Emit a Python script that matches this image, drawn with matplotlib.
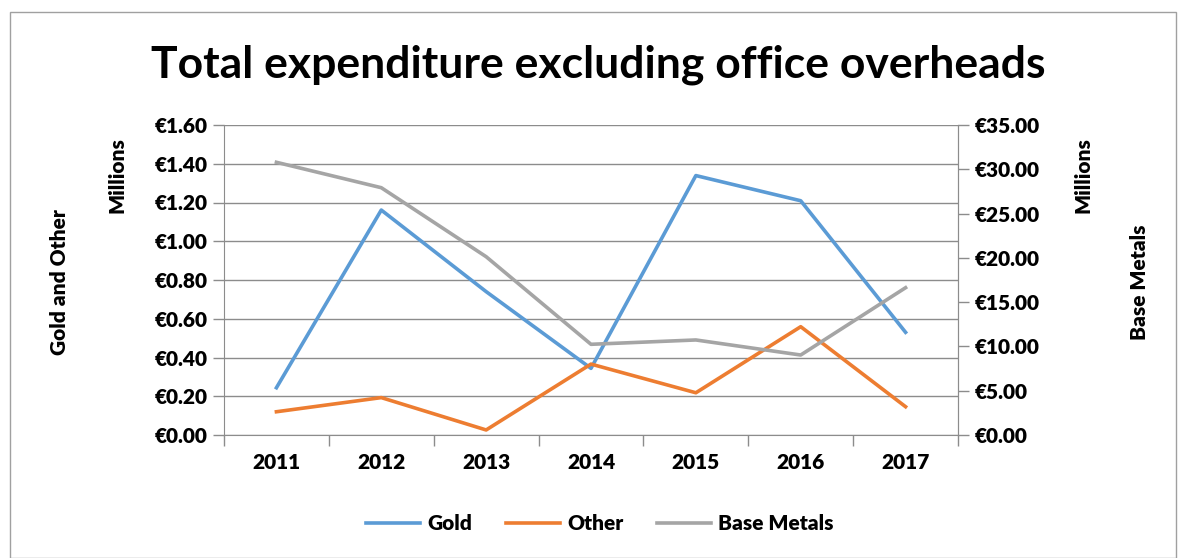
import matplotlib
matplotlib.use("Agg")
import matplotlib.pyplot as plt
from matplotlib.patches import Rectangle

# datos
years = ["2011", "2012", "2013", "2014", "2015", "2016", "2017"]
gold = [0.244, 1.161, 0.740, 0.344, 1.339, 1.209, 0.530]
other = [0.120, 0.193, 0.026, 0.366, 0.218, 0.559, 0.146]
base_metals = [30.79, 27.92, 20.13, 10.24, 10.73, 9.03, 16.63]

left_ticks = [0.0, 0.2, 0.4, 0.6, 0.8, 1.0, 1.2, 1.4, 1.6]
right_ticks = [0, 5, 10, 15, 20, 25, 30, 35]

plt.rcParams['font.family'] = ['Lato', 'DejaVu Sans']
peso = "heavy"
tam = 15

gris = "#8c8c8c"

fig = plt.figure(figsize=(11.84, 5.58), dpi=100)
fig.patches.append(Rectangle((10/1184, 0), 1166/1184, 1 - 12/558, transform=fig.transFigure,
                             fill=False, edgecolor="#a0a0a0", linewidth=1))

ax = fig.add_axes([224/1184, 1 - 435/558, 734/1184, 310/558])
ax2 = ax.twinx()

x = list(range(len(years)))
l1, = ax.plot(x, gold, color="#5B9BD5", linewidth=2.6, label="Gold")
l2, = ax.plot(x, other, color="#ED7D31", linewidth=2.6, label="Other")
l3, = ax2.plot(x, base_metals, color="#A5A5A5", linewidth=2.6, label="Base Metals")

ax.set_xlim(-0.5, 6.5)
ax.set_ylim(0, 1.6)
ax2.set_ylim(0, 35)
ax.set_yticks(left_ticks)
ax.set_yticklabels(["€%.2f" % v for v in left_ticks], fontweight=peso)
ax2.set_yticks(right_ticks)
ax2.set_yticklabels(["€%.2f" % v for v in right_ticks], fontweight=peso)
ax.grid(axis='y', color=gris, linewidth=1)
ax.set_axisbelow(True)

ax.set_xticks(x)
ax.set_xticklabels(years, fontweight=peso)
ax.set_xticks([i - 0.5 for i in range(len(years) + 1)], minor=True)
ax.tick_params(axis='x', which='major', length=0, pad=13, labelsize=tam)
ax.tick_params(axis='x', which='minor', length=8, color=gris, width=1)
ax.tick_params(axis='y', length=8, color=gris, width=1, labelsize=tam, pad=4)
ax2.tick_params(axis='y', length=8, color=gris, width=1, labelsize=tam, pad=4)

for a in (ax, ax2):
    a.spines["top"].set_visible(False)
    a.spines["left"].set_color(gris)
    a.spines["right"].set_color(gris)
    a.spines["bottom"].set_color(gris)
ax2.spines["left"].set_visible(False)
ax2.spines["bottom"].set_visible(False)

fig.text(598/1184, 1 - 65/558, "Total expenditure excluding office overheads",
         ha="center", va="center", fontsize=32, fontweight="bold")
fig.text(60/1184, 1 - 282/558, "Gold and Other", rotation=90, ha="center", va="center",
         fontsize=tam, fontweight=peso)
fig.text(117/1184, 1 - 175/558, "Millions", rotation=90, ha="center", va="center",
         fontsize=tam, fontweight=peso)
fig.text(1083/1184, 1 - 175/558, "Millions", rotation=90, ha="center", va="center",
         fontsize=tam, fontweight=peso)
fig.text(1140/1184, 1 - 282/558, "Base Metals", rotation=90, ha="center", va="center",
         fontsize=tam, fontweight=peso)

fig.legend(handles=[l1, l2, l3], loc="center", bbox_to_anchor=(600/1184, 1 - 524/558),
           ncol=3, frameon=False, prop={"size": tam, "weight": peso}, handlelength=2.6,
           columnspacing=1.6, handletextpad=0.35)

fig.savefig("out.png", dpi=100)
